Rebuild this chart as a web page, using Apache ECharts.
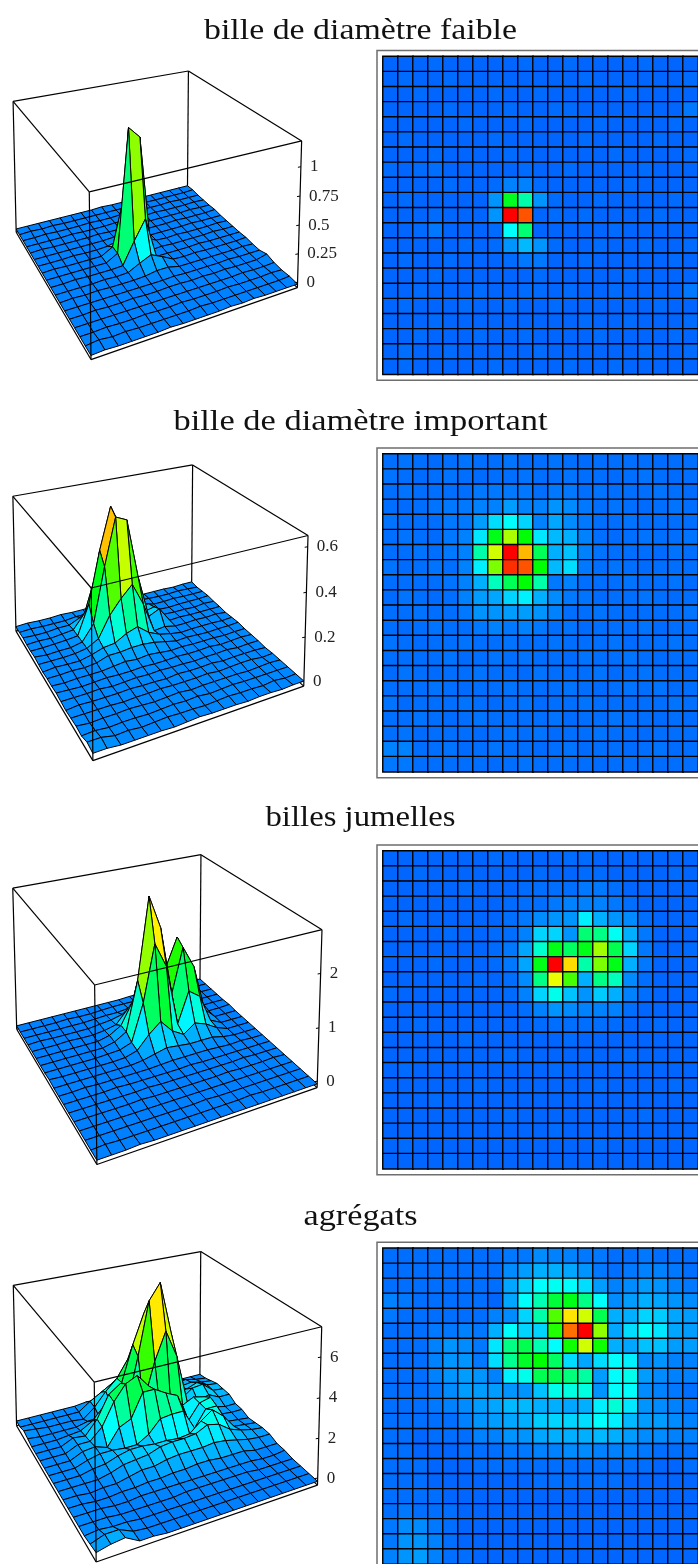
<!DOCTYPE html>
<html><head><meta charset="utf-8">
<style>html,body{margin:0;padding:0;background:#fff;overflow:hidden}#c{width:698px;height:1564px}</style>
<script src="https://cdn.jsdelivr.net/npm/echarts@6/dist/echarts.min.js"></script></head>
<body><div id="c"></div>
<script>
// values: percent of the colour scale, rows top to bottom as in the density plots
const titles = ['bille de diamètre faible','bille de diamètre important','billes jumelles','agrégats'];
const ticks1 = [0,0.25,0.5,0.75,1], tickLabels1 = ['0','0.25','0.5','0.75','1'];
const ticks2 = [0,0.2,0.4,0.6], tickLabels2 = ['0','0.2','0.4','0.6'];
const ticks3 = [0,1,2], tickLabels3 = ['0','1','2'];
const ticks4 = [0,2,4,6], tickLabels4 = ['0','2','4','6'];
const grid1 = [
[0,0,0,.5,0,0,0,0,0,.5,0,0,.5,0,0,0,0,.5,0,0,0],
[0,.5,0,0,.5,0,0,0,0,0,0,0,0,.5,0,0,0,0,0,0,.5],
[0,0,.5,0,0,0,0,.5,0,0,.5,0,0,0,0,0,.5,0,0,0,0],
[0,0,0,0,.5,0,0,0,.5,0,0,.5,.5,0,0,0,0,0,0,0,2],
[0,0,0,0,0,.5,0,0,0,.5,0,0,0,0,.5,0,0,0,0,.5,0],
[0,.5,0,0,0,0,0,.5,0,0,0,0,0,.5,0,0,0,0,.5,0,0],
[0,0,0,.5,0,0,0,0,.5,0,0,0,0,0,0,.5,0,0,0,0,.5],
[.5,0,.5,1,0,0,0,0,0,.5,0,0,.5,0,0,0,0,.5,0,0,0],
[0,0,0,0,.5,0,0,.5,3,3,.5,0,0,0,0,0,.5,0,0,0,0],
[0,.5,0,0,0,0,0,5,41,26,5,.5,0,0,.5,0,0,0,0,.5,0],
[0,0,0,.5,0,0,0,5,100,91,0,.5,0,.5,0,0,0,0,.5,0,0],
[0,0,.5,2,0,0,0,.5,17,32,0,0,0,0,0,.5,0,0,0,0,0],
[0,0,0,0,0,.5,0,.5,5,9,5,.5,0,0,.5,0,0,.5,0,0,.5],
[0,.5,0,0,.5,0,0,0,.5,2,2,0,0,.5,0,0,0,0,0,.5,0],
[0,0,0,.5,0,0,0,0,0,0,.5,0,0,0,0,0,.5,0,0,0,0],
[0,0,.5,0,0,0,.5,0,0,.5,.5,0,.5,0,0,.5,0,0,0,0,2],
[0,.5,0,0,0,.5,0,0,.5,0,0,.5,0,0,0,0,0,0,.5,0,0],
[0,0,0,.5,0,0,0,0,0,0,0,0,0,.5,0,0,.5,0,0,0,.5],
[0,0,.5,0,0,0,.5,0,0,.5,0,0,0,0,.5,0,0,0,0,.5,0],
[0,1,0,0,.5,0,0,0,0,0,.5,0,0,0,0,0,0,.5,0,0,.5],
[0,.5,0,0,0,0,0,.5,0,0,0,0,.5,0,0,.5,0,0,0,0,0]];
const grid2 = [
[1,1.5,1,.5,1,1.5,1,1,1.5,1,1,1.5,1,.5,1,1,1,1,.5,1,1],
[1.5,1,.5,1,1.5,1,.5,1,1,1.5,1,1,1.5,1,1,.5,1,1.5,1,.5,1],
[1,1.5,1,1,1,1,2,2,2,2,1,2,2,1,1.5,1,1,1,1.5,1,.5],
[1,.5,1,1.5,2,2,3,3,6,3,3,5,4,2,1,1.5,1,.5,1,1.5,1],
[1.5,1,1,1,2,2,6,13,17,12,3,7,4,2,1,1,1.5,1,1,1,1],
[1,1.5,1,.5,2,3,14,42,63,44,14,9,8,3,1,.5,1,1.5,1,1,1.5],
[1,1,1.5,1,2,3,26,67,100,80,35,8,10,3,1.5,1,1,1,.5,1.5,1],
[1.5,.5,1,1.5,1,3,15,58,95,91,44,9,13,2,1,1.5,1,.5,1,1,1],
[1,1,1,1,1.5,3,8,24,35,44,26,2,3,1,1,1,1.5,1,1,1.5,.5],
[.5,1.5,1,.5,1,3,6,7,12,15,8,4,2,1.5,.5,1,1,1.5,1,.5,1],
[1,1,1.5,1,1,2,5,5,6,6,5,3,1,1,1.5,1,.5,1,1,1,1.5],
[1,.5,1,1.5,1,1,2,3,2,3,2,1,1.5,.5,1,1,1,1.5,.5,1,1],
[1.5,1,.5,1,1,1.5,1,1,1.5,1,1,1.5,1,1,1,1.5,.5,1,1,1.5,1],
[1,1,1,1,1.5,.5,1,1.5,1,1.5,1,1,.5,1.5,1,1,1.5,1,.5,1,1],
[.5,1.5,1,.5,1,1,1.5,1,1,.5,1.5,1,1,1,1.5,.5,1,1.5,1,1,.5],
[1,1,1,1.5,1,.5,1,1,1.5,1,1,1,1.5,1,.5,1,1.5,1,1.5,.5,1],
[1.5,.5,1,1,1,1.5,1,.5,1,1.5,.5,1,1,1.5,1,1,.5,1,1,1.5,1],
[1,1,1.5,1,.5,1,1.5,1,1,1,1,1.5,.5,1,1,1.5,1,1,.5,1,.5],
[1,1.5,.5,1,1,1,.5,1,1.5,1,1.5,.5,1,1,1.5,1,1,.5,1,1,1],
[3,3,1,1,1.5,.5,1,1.5,1,1,.5,1,1.5,.5,1,1,.5,1,1.5,.5,1],
[2,2,1,1,1,1,1,.5,1,1.5,1,1,1,1,.5,1,1,1,.5,1,1]];
const grid3 = [
[0,0,0,0,0,0,0,.5,0,0,0,0,.5,.5,0,0,0,0,0,0,0],
[0,0,.5,0,0,0,0,0,0,0,.5,0,0,.5,.5,0,0,0,0,.5,0],
[0,0,0,0,0,.5,0,0,0,.5,1,1,1,2,2,1,0,0,0,0,0],
[0,0,0,0,0,0,0,0,.5,1,1,2,3,3,3,2,1,0,0,0,0],
[0,.5,0,0,0,0,0,0,1,2,4,5,5,15,8,5,4,1,0,0,0],
[0,0,0,0,.5,0,0,.5,1,3,12,12,5,32,30,18,8,2,0,0,0],
[0,0,0,0,0,0,0,.5,2,7,22,42,34,42,62,36,12,2,0,0,.5],
[0,0,0,.5,0,0,0,.5,2,7,42,100,76,26,58,42,8,2,0,0,0],
[0,0,0,0,0,0,.5,0,1,4,30,70,52,8,30,24,4,1,0,0,0],
[.5,0,0,0,0,0,0,0,.5,3,12,19,10,5,11,8,3,1,0,0,0],
[0,0,0,0,0,0,0,0,0,1,3,5,4,3,3,3,1,0,0,0,0],
[0,0,.5,0,0,0,0,0,0,0,.5,1,1,1,1,.5,0,0,.5,0,0],
[0,0,0,0,0,.5,0,0,0,0,0,0,.5,0,0,0,0,0,0,0,0],
[0,0,0,0,0,0,0,0,.5,0,0,0,0,0,0,0,.5,0,0,0,0],
[0,.5,0,0,0,0,0,0,0,0,0,.5,0,0,0,0,0,0,0,0,0],
[0,0,0,0,0,0,.5,0,0,0,0,0,0,0,.5,0,0,0,0,.5,0],
[0,0,0,.5,0,0,0,0,0,0,0,0,0,0,0,0,0,0,0,0,0],
[0,0,0,0,0,0,0,0,.5,0,0,0,0,0,0,0,0,.5,0,0,0],
[0,0,0,0,0,0,0,0,0,0,0,.5,0,0,0,0,0,0,0,0,0],
[0,.5,0,0,0,0,0,0,0,0,0,0,0,0,.5,0,0,0,0,0,0],
[0,0,0,0,.5,0,0,0,0,0,0,0,0,0,0,0,0,0,0,0,0]];
const grid4 = [
[1,1,1,1,1,1,1,1,2,2,4,3,3,2,2,1,1,2,1,1,1],
[1,1,1,1,1,1,1,1,4,6,8,8,7,5,2,1,2,3,3,2,1],
[1,1,1,1,1,1,1,1,7,12,17,18,17,13,6,3,4,6,5,3,2],
[3,2,1,1,1,1,1,0,7,17,25,38,42,30,17,4,6,8,7,5,4],
[2,1,1,1,1,1,1,3,4,12,26,53,75,67,36,8,8,12,11,7,6],
[1,1,1,2,2,3,2,8,17,12,12,48,88,100,60,7,13,17,14,7,6],
[1,1,1,3,5,4,2,14,30,36,25,17,46,67,46,8,7,10,10,6,6],
[1,1,1,3,5,5,2,13,29,40,44,34,13,7,13,17,15,4,5,3,3],
[1,1,1,3,5,6,5,3,15,19,36,36,31,27,6,17,19,6,4,3,3],
[1,1,1,2,4,6,6,6,5,5,10,19,20,20,5,17,17,4,3,2,1],
[1,1,1,2,3,4,6,7,9,9,8,8,7,8,15,21,14,5,4,3,2],
[1,1,1,1,1,3,5,6,7,8,11,12,12,13,17,15,9,6,6,4,3],
[1,1,0,1,1,1,3,3,5,5,7,8,8,8,9,8,6,4,4,3,3],
[1,1,0,0,0,1,1,1,2,2,3,3,4,4,3,3,3,2,1,1,1],
[1,1,1,0,0,0,1,1,1,1,1,1,1,1,1,1,1,1,0,0,1],
[1,1,1,0,0,0,0,0,0,0,1,1,1,1,1,1,0,0,0,0,0],
[1,1,1,1,0,0,0,0,0,0,0,0,0,0,0,0,0,0,0,0,0],
[1,2,1,1,1,0,0,0,0,0,0,0,0,0,0,0,0,0,0,0,0],
[2,4,4,2,1,0,0,0,0,0,0,0,0,0,0,0,0,0,0,0,0],
[2,5,5,3,1,0,0,0,0,0,0,0,0,0,0,0,0,0,0,0,0],
[3,5,6,3,1,1,0,0,0,0,0,0,0,0,0,0,0,0,0,0,0]];
// the 3D mesh has 18 x 18 nodes: which grid columns and rows (counted from the bottom) they show
const cols1 = [0,1,2,4,5,6,7,8,9,10,11,12,14,15,16,18,19,20];
const rows1 = [0,1,2,3,5,6,7,8,9,10,11,12,14,15,16,18,19,20];
const cols2 = [0,1,2,4,5,6,7,8,9,10,11,12,14,15,16,18,19,20];
const rows2 = [0,1,2,4,5,6,7,8,9,10,11,12,13,14,15,16,18,20];
const cols3 = [0,1,2,4,5,6,8,9,10,11,12,13,14,15,16,18,19,20];
const rows3 = [0,1,2,4,5,7,8,9,10,11,12,13,14,15,16,17,18,20];
const cols4 = [0,1,2,4,5,7,8,9,10,11,12,13,14,15,16,18,19,20];
const rows4 = [0,1,3,5,6,7,8,9,10,11,12,13,14,15,16,17,18,20];

// layout
const N = 21, CELL = 15.13, M = 17;
const panels = [
 {grid:grid1, cols:cols1, rows:rows1, ticks:ticks1, labels:tickLabels1, zLo:-0.048, zHi:1.218, zBase:-0.016, zPeak:1.16, titleY:31, heatTop:56.5,
  box:{Lb:[16,231.7],Lt:[12.7,102.3],Bb:[187.7,188.3],Bt:[188.7,71],Rb:[296.7,288.3],Rt:[301.7,140.7],Fb:[91.7,360],Ft:[89.3,191]}},
 {grid:grid2, cols:cols2, rows:rows2, ticks:ticks2, labels:tickLabels2, zLo:-0.022, zHi:0.649, zBase:-0.005, zPeak:0.61, titleY:422, heatTop:454,
  box:{Lb:[16,631.7],Lt:[12.7,496.7],Bb:[191.7,585],Bt:[192.7,465],Rb:[303.3,686.7],Rt:[308.3,536],Fb:[93.3,760.7],Ft:[91,586.7]}},
 {grid:grid3, cols:cols3, rows:rows3, ticks:ticks3, labels:tickLabels3, zLo:-0.122, zHi:2.79, zBase:-0.05, zPeak:2.76, titleY:818, heatTop:851,
  box:{Lb:[16.7,1030],Lt:[12.7,888.3],Bb:[200,981],Bt:[201,855],Rb:[316.7,1088.3],Rt:[322.3,930],Fb:[97.3,1164.3],Ft:[94.3,984]}},
 {grid:grid4, cols:cols4, rows:rows4, ticks:ticks4, labels:tickLabels4, zLo:-0.36, zHi:7.47, zBase:-0.164, zPeak:7.25, titleY:1217, heatTop:1248.3,
  box:{Lb:[16.7,1426.7],Lt:[12.7,1285.7],Bb:[200,1376.7],Bt:[201,1252.3],Rb:[316.7,1486.7],Rt:[322,1326.7],Fb:[96.7,1561.7],Ft:[94.3,1380.7]}}
];
const SERIF = '"Liberation Serif","Times New Roman",serif';

// fit a perspective camera to the eight box corners (unit cube -> page)
function solve(A,b){const n=b.length;for(let i=0;i<n;i++){let p=i;for(let r=i+1;r<n;r++)if(Math.abs(A[r][i])>Math.abs(A[p][i]))p=r;
  [A[i],A[p]]=[A[p],A[i]];[b[i],b[p]]=[b[p],b[i]];for(let r=i+1;r<n;r++){const f=A[r][i]/A[i][i];for(let c=i;c<n;c++)A[r][c]-=f*A[i][c];b[r]-=f*b[i];}}
  const x=new Array(n).fill(0);for(let i=n-1;i>=0;i--){let s=b[i];for(let c=i+1;c<n;c++)s-=A[i][c]*x[c];x[i]=s/A[i][i];}return x;}
function camera(box){
  const pts=[[0,0,0,box.Fb],[1,0,0,box.Rb],[0,1,0,box.Lb],[1,1,0,box.Bb],[0,0,1,box.Ft],[1,0,1,box.Rt],[0,1,1,box.Lt],[1,1,1,box.Bt]];
  const rows=[],rhs=[];
  pts.forEach(([u,v,w,s])=>{rows.push([u,v,w,1,0,0,0,0,-s[0]*u,-s[0]*v,-s[0]*w]);rhs.push(s[0]);
    rows.push([0,0,0,0,u,v,w,1,-s[1]*u,-s[1]*v,-s[1]*w]);rhs.push(s[1]);});
  const A=[],b=[];for(let i=0;i<11;i++){A.push([]);let t=0;for(let j=0;j<11;j++){let s=0;rows.forEach(r=>s+=r[i]*r[j]);A[i].push(s);}
    rows.forEach((r,k)=>t+=r[i]*rhs[k]);b.push(t);}
  const m=solve(A,b);
  return (u,v,w)=>{const d=m[8]*u+m[9]*v+m[10]*w+1;return [(m[0]*u+m[1]*v+m[2]*w+m[3])/d,(m[4]*u+m[5]*v+m[6]*w+m[7])/d];};
}
const heatColor = p => `hsl(${216*(1-p/100)},100%,50%)`;
const surfColor = p => `hsl(${210*(1-0.98*p/100)},100%,50%)`;

const measure = document.createElement('canvas').getContext('2d');
const titleWidths = [313,374,190,114];
const graphic = [];
titles.forEach((t,i)=>{
  measure.font = '29px "Liberation Serif"';
  const w = measure.measureText(t).width;
  graphic.push({type:'text',x:360.5,y:panels[i].titleY,scaleX:titleWidths[i]/w,originX:0,originY:0,
    style:{text:t,font:'29px '+SERIF,textAlign:'center',textVerticalAlign:'middle',fill:'#111'},z:5});
});
panels.forEach(p=>{
  graphic.push({type:'rect',shape:{x:377,y:p.heatTop-6,width:336,height:N*CELL+12},
    style:{fill:'#fff',stroke:'#6e6e6e',lineWidth:1.5},z:-1});
});

const gridsOpt=[{left:0,top:0,width:698,height:1564,show:false}];
const xAxes=[{type:'value',gridIndex:0,min:0,max:698,show:false}];
const yAxes=[{type:'value',gridIndex:0,min:0,max:1564,inverse:true,show:false}];
const series=[];
panels.forEach((p,pi)=>{
  const gi=pi+1;
  gridsOpt.push({left:383,top:p.heatTop,width:N*CELL,height:N*CELL,show:false});
  const cats=Array.from({length:N},(_,i)=>i);
  xAxes.push({type:'category',gridIndex:gi,data:cats,show:false});
  yAxes.push({type:'category',gridIndex:gi,data:cats,inverse:true,show:false});
  const hd=[];
  p.grid.forEach((row,r)=>row.forEach((val,c)=>hd.push({value:[c,r,val],itemStyle:{color:heatColor(val)}})));
  series.push({type:'heatmap',xAxisIndex:gi,yAxisIndex:gi,data:hd,silent:true,animation:false,progressive:0,
    itemStyle:{borderColor:'#000',borderWidth:1.4}});

  const cam=camera(p.box);
  const W=z=>(z-p.zLo)/(p.zHi-p.zLo);
  const val=(i,j)=>p.grid[20-p.rows[j]][p.cols[i]];   // i along front-right edge, j along front-left edge
  const height=(i,j)=>W(p.zBase+val(i,j)/100*(p.zPeak-p.zBase));
  const vert=(api,i,j)=>api.coord(cam(i/M,j/M,height(i,j)));
  const lineSeries=(edges,z)=>({type:'custom',xAxisIndex:0,yAxisIndex:0,coordinateSystem:'cartesian2d',silent:true,animation:false,clip:false,z,
    data:edges.map((e,k)=>[k,k]),
    renderItem:(par,api)=>{const e=edges[par.dataIndex];const a=api.coord(cam(e[0],e[1],e[2])),b=api.coord(cam(e[3],e[4],e[5]));
      return {type:'line',shape:{x1:a[0],y1:a[1],x2:b[0],y2:b[1]},style:{stroke:'#000',lineWidth:1.2}};}});
  // back of the box
  series.push(lineSeries([[0,1,1,1,1,1],[1,1,1,1,0,1],[1,1,0,1,1,1],[0,1,0,0,1,1],[1,0,0,1,0,1],[0,1,0,1,1,0],[1,1,0,1,0,0]],2));
  // surface, far facets first
  const facets=[];for(let i=M-1;i>=0;i--)for(let j=M-1;j>=0;j--)facets.push([i,j]);
  series.push({type:'custom',xAxisIndex:0,yAxisIndex:0,coordinateSystem:'cartesian2d',silent:true,animation:false,clip:false,z:3,progressive:0,
    data:facets,
    renderItem:(par,api)=>{const [i,j]=facets[par.dataIndex];
      const avg=(val(i,j)+val(i+1,j)+val(i,j+1)+val(i+1,j+1))/4;
      return {type:'polygon',shape:{points:[vert(api,i,j),vert(api,i+1,j),vert(api,i+1,j+1),vert(api,i,j+1)]},
        style:{fill:surfColor(avg),stroke:'#000',lineWidth:1}};}});
  // front of the box
  series.push(lineSeries([[0,0,1,0,1,1],[0,0,1,1,0,1],[0,0,0,0,0,1],[0,0,0,1,0,0],[0,0,0,0,1,0]],4));
  // z ticks and labels on the right edge
  series.push({type:'custom',xAxisIndex:0,yAxisIndex:0,coordinateSystem:'cartesian2d',silent:true,animation:false,clip:false,z:4,
    data:p.ticks.map((t,k)=>[k,t]),
    renderItem:(par,api)=>{const k=par.dataIndex,t=p.ticks[k];const a=api.coord(cam(1,0,W(t)));
      return {type:'group',children:[
        {type:'line',shape:{x1:a[0],y1:a[1],x2:a[0]-3,y2:a[1]+0.5},style:{stroke:'#000',lineWidth:1}},
        {type:'text',style:{text:p.labels[k],x:a[0]+9,y:a[1],font:'17px '+SERIF,textAlign:'left',textVerticalAlign:'middle',fill:'#222'}}]};}});
});
const chart=echarts.init(document.getElementById('c'),null,{renderer:'canvas',width:698,height:1564});
chart.setOption({backgroundColor:'#fff',animation:false,grid:gridsOpt,xAxis:xAxes,yAxis:yAxes,series,graphic});
</script></body></html>
